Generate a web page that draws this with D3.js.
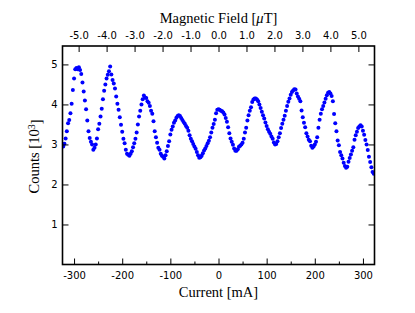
<!DOCTYPE html>
<html lang="en">
<head>
  <meta charset="UTF-8">
  <title>Counts vs Current</title>
  <style>
  body { margin: 0; background: white; }
  .tick text { font-family: 'DejaVu Sans', sans-serif; font-size: 10px; fill: black; }
  .tick line { stroke: black; stroke-width: 1px; }
  .label { font-family: 'Liberation Serif', serif; font-size: 14.5px; fill: black; }
  circle { fill: #0000ff; }
  </style>
</head>
<body>
  <svg></svg>
  <script src="https://d3js.org/d3.v7.min.js"></script>
  <script>

  // coil current in mA
  var current = [-322.5, -320, -317.5, -315, -312.5, -310, -307.5, -305, -302.5, -300,
    -297.5, -295, -292.5, -290, -287.5, -285, -282.5, -280, -277.5, -275,
    -272.5, -270, -267.5, -265, -262.5, -260, -257.5, -255, -252.5, -250,
    -247.5, -245, -242.5, -240, -237.5, -235, -232.5, -230, -227.5, -225,
    -222.5, -220, -217.5, -215, -212.5, -210, -207.5, -205, -202.5, -200,
    -197.5, -195, -192.5, -190, -187.5, -185, -182.5, -180, -177.5, -175,
    -172.5, -170, -167.5, -165, -162.5, -160, -157.5, -155, -152.5, -150,
    -147.5, -145, -142.5, -140, -137.5, -135, -132.5, -130, -127.5, -125,
    -122.5, -120, -117.5, -115, -112.5, -110, -107.5, -105, -102.5, -100,
    -97.5, -95, -92.5, -90, -87.5, -85, -82.5, -80, -77.5, -75,
    -72.5, -70, -67.5, -65, -62.5, -60, -57.5, -55, -52.5, -50,
    -47.5, -45, -42.5, -40, -37.5, -35, -32.5, -30, -27.5, -25,
    -22.5, -20, -17.5, -15, -12.5, -10, -7.5, -5, -2.5, 0,
    2.5, 5, 7.5, 10, 12.5, 15, 17.5, 20, 22.5, 25,
    27.5, 30, 32.5, 35, 37.5, 40, 42.5, 45, 47.5, 50,
    52.5, 55, 57.5, 60, 62.5, 65, 67.5, 70, 72.5, 75,
    77.5, 80, 82.5, 85, 87.5, 90, 92.5, 95, 97.5, 100,
    102.5, 105, 107.5, 110, 112.5, 115, 117.5, 120, 122.5, 125,
    127.5, 130, 132.5, 135, 137.5, 140, 142.5, 145, 147.5, 150,
    152.5, 155, 157.5, 160, 162.5, 165, 167.5, 170, 172.5, 175,
    177.5, 180, 182.5, 185, 187.5, 190, 192.5, 195, 197.5, 200,
    202.5, 205, 207.5, 210, 212.5, 215, 217.5, 220, 222.5, 225,
    227.5, 230, 232.5, 235, 237.5, 240, 242.5, 245, 247.5, 250,
    252.5, 255, 257.5, 260, 262.5, 265, 267.5, 270, 272.5, 275,
    277.5, 280, 282.5, 285, 287.5, 290, 292.5, 295, 297.5, 300,
    302.5, 305, 307.5, 310, 312.5, 315, 317.5, 320, 322.5];

  // counts in units of 10^3
  var counts = [2.95, 3.02, 3.15, 3.33, 3.53, 3.61, 3.78, 4.02, 4.36, 4.65,
    4.88, 4.91, 4.88, 4.93, 4.86, 4.76, 4.55, 4.32, 4.10, 3.88,
    3.60, 3.33, 3.16, 3.07, 3.00, 2.87, 2.92, 3.00, 3.15, 3.38,
    3.52, 3.70, 3.89, 4.13, 4.34, 4.50, 4.65, 4.74, 4.83, 4.95,
    4.75, 4.61, 4.52, 4.40, 4.20, 4.02, 3.87, 3.68, 3.49, 3.32,
    3.14, 3.03, 2.87, 2.77, 2.74, 2.72, 2.77, 2.83, 2.93, 3.03,
    3.14, 3.30, 3.50, 3.70, 3.84, 4.00, 4.13, 4.22, 4.17, 4.16,
    4.08, 4.04, 3.96, 3.84, 3.77, 3.58, 3.33, 3.18, 3.04, 2.92,
    2.87, 2.77, 2.72, 2.69, 2.65, 2.73, 2.83, 2.96, 3.08, 3.25,
    3.37, 3.45, 3.54, 3.60, 3.67, 3.71, 3.73, 3.71, 3.66, 3.61,
    3.56, 3.52, 3.46, 3.42, 3.34, 3.23, 3.14, 3.08, 3.01, 2.95,
    2.89, 2.81, 2.73, 2.67, 2.68, 2.72, 2.78, 2.85, 2.90, 2.96,
    3.03, 3.09, 3.18, 3.30, 3.42, 3.51, 3.62, 3.78, 3.87, 3.88,
    3.87, 3.84, 3.83, 3.80, 3.75, 3.66, 3.57, 3.43, 3.28, 3.15,
    3.07, 2.99, 2.90, 2.84, 2.84, 2.88, 2.94, 2.97, 3.00, 3.04,
    3.14, 3.30, 3.42, 3.60, 3.73, 3.84, 3.93, 4.06, 4.12, 4.15,
    4.15, 4.12, 4.08, 4.00, 3.91, 3.82, 3.73, 3.65, 3.55, 3.46,
    3.38, 3.32, 3.27, 3.20, 3.14, 3.05, 3.00, 3.01, 3.08, 3.18,
    3.28, 3.41, 3.52, 3.62, 3.72, 3.84, 3.96, 4.07, 4.15, 4.24,
    4.31, 4.35, 4.38, 4.37, 4.27, 4.20, 4.14, 4.08, 3.85, 3.68,
    3.54, 3.43, 3.28, 3.20, 3.12, 3.08, 2.97, 2.92, 2.95, 3.00,
    3.07, 3.18, 3.42, 3.62, 3.77, 3.88, 3.96, 4.05, 4.14, 4.23,
    4.29, 4.31, 4.27, 4.21, 4.08, 3.76, 3.53, 3.33, 3.10, 2.98,
    2.81, 2.73, 2.65, 2.54, 2.46, 2.42, 2.44, 2.57, 2.66, 2.75,
    2.84, 2.93, 3.12, 3.23, 3.32, 3.41, 3.45, 3.48, 3.45, 3.34,
    3.24, 3.11, 3.00, 2.86, 2.69, 2.56, 2.43, 2.31, 2.27];

  var currentTicks = [-300, -200, -100, 0, 100, 200, 300];
  var currentMinorTicks = [-250, -150, -50, 50, 150, 250];
  var fieldTicks = [-5, -4, -3, -2, -1, 0, 1, 2, 3, 4, 5];
  var countTicks = [1, 2, 3, 4, 5];

  var mAperMicroTesla = 58.1;

  var width = 415, height = 313;
  var margin = { top: 46, right: 40.5, bottom: 48.5, left: 62.5 };

  var svg = d3.select('svg').attr('width', width).attr('height', height);

  var x = d3.scaleLinear().domain([-324, 324]).range([margin.left, width - margin.right]);
  var xTop = d3.scaleLinear()
               .domain([-324 / mAperMicroTesla, 324 / mAperMicroTesla])
               .range([margin.left, width - margin.right]);
  var y = d3.scaleLinear().domain([0, 5.46]).range([height - margin.bottom, margin.top]);

  // plain hyphen for negatives, like the original
  var fmtInt = function (d) { return d.toFixed(0); };
  var fmtOne = function (d) { return d.toFixed(1); };

  svg.append('clipPath').attr('id', 'plot')
     .append('rect')
     .attr('x', margin.left).attr('y', margin.top)
     .attr('width', width - margin.left - margin.right)
     .attr('height', height - margin.top - margin.bottom);

  svg.append('g')
     .attr('clip-path', 'url(#plot)')
     .selectAll('circle')
     .data(current)
     .enter()
     .append('circle')
     .attr('cx', function (d) { return x(d); })
     .attr('cy', function (d, i) { return y(counts[i]); })
     .attr('r', 2);

  // ticks point inward, so sizes are negative
  function axis(gen, transform) {
    var g = svg.append('g').attr('transform', transform).call(gen);
    g.select('.domain').remove();
    return g;
  }

  axis(d3.axisBottom(x).tickValues(currentTicks).tickFormat(fmtInt)
         .tickSizeInner(-6).tickSizeOuter(0).tickPadding(7),
       'translate(0,' + (height - margin.bottom) + ')');
  axis(d3.axisBottom(x).tickValues(currentMinorTicks).tickFormat('')
         .tickSizeInner(-3).tickSizeOuter(0),
       'translate(0,' + (height - margin.bottom) + ')');
  axis(d3.axisTop(xTop).tickValues(fieldTicks).tickFormat(fmtOne)
         .tickSizeInner(-6).tickSizeOuter(0).tickPadding(7),
       'translate(0,' + margin.top + ')');
  axis(d3.axisLeft(y).tickValues(countTicks).tickFormat(fmtInt)
         .tickSizeInner(-6).tickSizeOuter(0).tickPadding(5),
       'translate(' + margin.left + ',0)');
  axis(d3.axisRight(y).tickValues(countTicks).tickFormat('')
         .tickSizeInner(-6).tickSizeOuter(0),
       'translate(' + (width - margin.right) + ',0)');

  svg.selectAll('.tick text').attr('font-family', null).attr('font-size', null);

  // frame
  svg.append('rect')
     .attr('x', margin.left).attr('y', margin.top)
     .attr('width', width - margin.left - margin.right)
     .attr('height', height - margin.top - margin.bottom)
     .attr('fill', 'none')
     .attr('stroke', 'black')
     .attr('stroke-width', 1.6);

  svg.append('text').attr('class', 'label')
     .attr('x', x(0)).attr('y', 297)
     .attr('text-anchor', 'middle')
     .text('Current [mA]');

  var topLabel = svg.append('text').attr('class', 'label')
     .attr('x', x(0)).attr('y', 23)
     .attr('text-anchor', 'middle');
  topLabel.append('tspan').text('Magnetic Field [');
  topLabel.append('tspan').attr('font-style', 'italic').text('μ');
  topLabel.append('tspan').text('T]');

  var yLabel = svg.append('text').attr('class', 'label')
     .attr('transform', 'translate(39,' + y(2.7) + ')rotate(-90)')
     .attr('text-anchor', 'middle');
  yLabel.append('tspan').text('Counts [10');
  yLabel.append('tspan').attr('font-size', '10px').attr('dy', '-0.45em').text('3');
  yLabel.append('tspan').attr('dy', '0.45em').text(']');

  </script>
</body>
</html>
